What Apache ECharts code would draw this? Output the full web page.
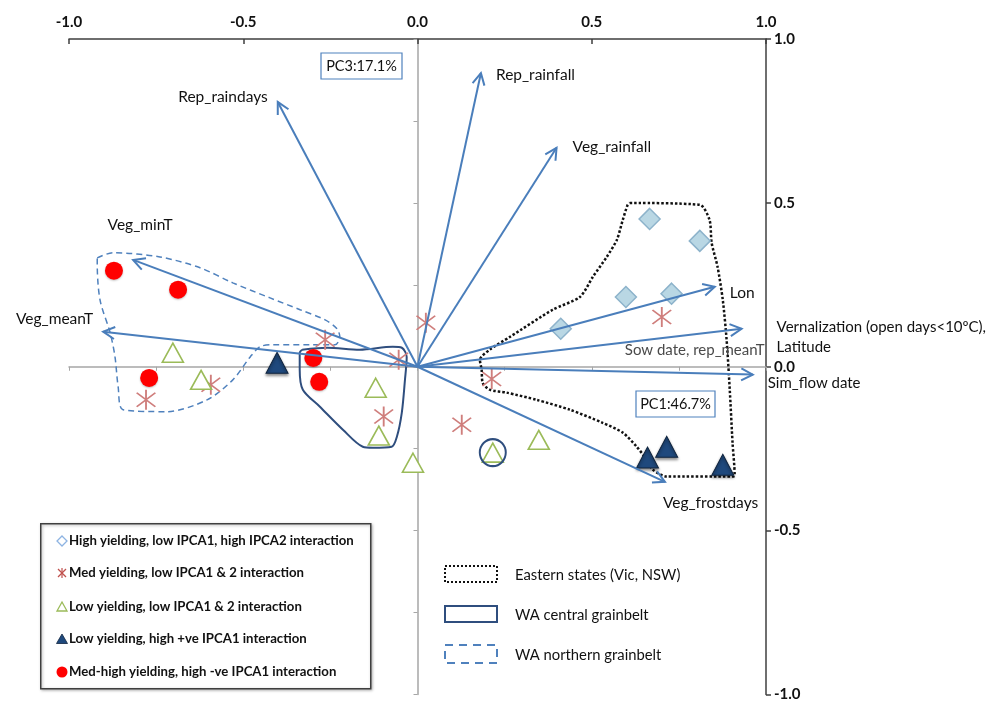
<!DOCTYPE html>
<html>
<head>
<meta charset="utf-8">
<script src="https://cdn.jsdelivr.net/npm/echarts@6/dist/echarts.min.js"></script>
<style>
html,body{margin:0;padding:0;background:#fff;}
#chart{width:989px;height:702px;}
</style>
</head>
<body>
<div id="chart"></div>
<script>
// ---------- DATA ----------
const axisMin = -1, axisMax = 1, axisStep = 0.5, zeroLineStep = 0.25;

// Variable loadings (arrow tips)
const loadingNames = ['Rep_raindays','Rep_rainfall','Veg_rainfall','Veg_minT','Veg_meanT','Lon','Vernalization','Sim_flow date','Veg_frostdays'];
const loadingX = [-0.401, 0.182, 0.399, -0.816, -0.902, 0.853, 0.930, 0.962, 0.710];
const loadingY = [0.808, 0.896, 0.668, 0.326, 0.107, 0.244, 0.116, -0.024, -0.351];
const loadingLabels = ['Rep_raindays','Rep_rainfall','Veg_rainfall','Veg_minT','Veg_meanT','Lon',
  'Vernalization (open days<10ºC),\nLatitude','Sim_flow date','Veg_frostdays'];
const extraLabel = 'Sow date, rep_meanT';

// Genotype groups
const highYield = [[0.411,0.116],[0.598,0.213],[0.666,0.451],[0.729,0.223],[0.810,0.384]];
const medYield = [[-0.265,0.082],[0.024,0.134],[-0.054,0.021],[-0.593,-0.055],[-0.779,-0.101],[-0.097,-0.152],[0.127,-0.177],[0.213,-0.037],[0.701,0.152]];
const lowYield = [[-0.702,0.043],[-0.621,-0.040],[-0.120,-0.064],[-0.111,-0.210],[-0.013,-0.293],[0.216,-0.262],[0.348,-0.223]];
const lowYieldPos = [[-0.403,0.012],[0.660,-0.277],[0.715,-0.244],[0.876,-0.299]];
const medHighNeg = [[-0.871,0.293],[-0.687,0.235],[-0.770,-0.034],[-0.299,0.027],[-0.282,-0.046]];
const circledPoint = [[0.216,-0.262]];

// Region outlines
const easternStates = [[0.609,0.500],[0.810,0.494],[0.838,0.448],[0.844,0.378],[0.861,0.305],[0.876,0.204],[0.887,0.082],[0.896,-0.070],[0.904,-0.232],[0.910,-0.329],[0.907,-0.335],[0.715,-0.335],[0.675,-0.314],[0.658,-0.284],[0.629,-0.244],[0.589,-0.201],[0.531,-0.171],[0.437,-0.131],[0.342,-0.101],[0.256,-0.079],[0.207,-0.070],[0.187,-0.049],[0.184,-0.009],[0.179,0.021],[0.207,0.052],[0.265,0.091],[0.388,0.174],[0.466,0.213],[0.503,0.274],[0.543,0.335],[0.572,0.387],[0.589,0.448],[0.603,0.494],[0.609,0.500]];
const waCentral = [[-0.331,0.052],[-0.259,0.058],[-0.166,0.052],[-0.071,0.061],[-0.045,0.058],[-0.031,0.030],[-0.036,-0.040],[-0.045,-0.140],[-0.059,-0.213],[-0.074,-0.244],[-0.128,-0.247],[-0.157,-0.244],[-0.214,-0.192],[-0.280,-0.122],[-0.329,-0.070],[-0.338,-0.009],[-0.338,0.043],[-0.331,0.052]];
const waNorthern = [[-0.919,0.332],[-0.874,0.348],[-0.739,0.335],[-0.624,0.302],[-0.530,0.256],[-0.423,0.210],[-0.337,0.174],[-0.265,0.143],[-0.231,0.116],[-0.223,0.091],[-0.237,0.067],[-0.309,0.067],[-0.415,0.067],[-0.452,0.061],[-0.480,0.030],[-0.530,-0.040],[-0.604,-0.101],[-0.719,-0.137],[-0.845,-0.131],[-0.859,-0.061],[-0.868,0.030],[-0.882,0.104],[-0.911,0.204],[-0.919,0.317],[-0.919,0.332]];

const groupNames = ['High yielding, low IPCA1, high IPCA2 interaction','Med yielding, low IPCA1 & 2 interaction','Low yielding, low IPCA1 & 2 interaction','Low yielding, high +ve IPCA1 interaction','Med-high yielding, high -ve IPCA1 interaction'];
const regionNames = ['Eastern states (Vic, NSW)','WA central grainbelt','WA northern grainbelt'];
const pcBoxes = ['PC3:17.1%','PC1:46.7%'];

// ---------- STYLE ----------
const FONT = 'Lato, "Open Sans", sans-serif';
const arrowColor = '#4a7ebb';
const labelStyle = { // offsets from arrow tip in px
  'Rep_raindays': {dx:-10, dy:-5, align:'right'},
  'Rep_rainfall': {dx:15, dy:2, align:'left'},
  'Veg_rainfall': {dx:16, dy:-1, align:'left'},
  'Veg_minT': {dx:7, dy:-35, align:'center'},
  'Veg_meanT': {dx:-10, dy:-13, align:'right'},
  'Lon': {dx:15, dy:6, align:'left'},
  'Vernalization': {dx:35, dy:8, align:'left', size:15},
  'Sim_flow date': {dx:15, dy:9, align:'left', size:15},
  'Veg_frostdays': {dx:-2, dy:21, align:'left'}
};
const asteriskPath = 'path://M46.5 0 L53.5 0 L53.5 100 L46.5 100 Z M12.5 17.5 L17.5 12.5 L87.5 82.5 L82.5 87.5 Z M82.5 12.5 L87.5 17.5 L17.5 87.5 L12.5 82.5 Z';

const chart = echarts.init(document.getElementById('chart'), null, {renderer:'canvas'});

const fmt = v => v.toFixed(1);

function arrowItem(params, api) {
  const i = api.value(2);
  const o = api.coord([0, 0]);
  const t = api.coord([api.value(0), api.value(1)]);
  const ang = Math.atan2(t[1] - o[1], t[0] - o[0]);
  const L = 13, a = Math.PI / 6.5;
  const p1 = [t[0] - L * Math.cos(ang - a), t[1] - L * Math.sin(ang - a)];
  const p2 = [t[0] - L * Math.cos(ang + a), t[1] - L * Math.sin(ang + a)];
  const name = loadingNames[i];
  const ls = labelStyle[name];
  const children = [
    {type:'line', shape:{x1:o[0], y1:o[1], x2:t[0], y2:t[1]}, style:{stroke:arrowColor, lineWidth:2}},
    {type:'polyline', shape:{points:[p1, t, p2]}, style:{stroke:arrowColor, lineWidth:2, fill:null}},
    {type:'text', x:t[0] + ls.dx, y:t[1] + ls.dy, style:{text:loadingLabels[i], fill:'#111', font:(ls.size||15.5) + 'px ' + FONT, align:ls.align, verticalAlign:'middle', lineHeight:20}}
  ];
  if (name === 'Vernalization') {
    children.push({type:'text', x:t[0] + 23, y:t[1] + 21, style:{text:extraLabel, fill:'#4a4a4a', font:'15px ' + FONT, align:'right', verticalAlign:'middle'}});
  }
  return {type:'group', children};
}

const option = {
  animation:false,
  grid:{left:69, right:223, top:39, bottom:7},
  xAxis:[
    {type:'value', min:axisMin, max:axisMax, interval:axisStep, position:'top',
     axisLine:{onZero:false, lineStyle:{color:'#3f3f3f', width:1.5}},
     axisTick:{inside:true, length:5, lineStyle:{color:'#3f3f3f', width:1.5}},
     axisLabel:{formatter:fmt, color:'#111', fontWeight:'bold', fontSize:15, fontFamily:FONT, margin:9, showMinLabel:true, showMaxLabel:true},
     splitLine:{show:false}},
    {type:'value', min:axisMin, max:axisMax, interval:zeroLineStep, position:'bottom',
     axisLine:{onZero:true, onZeroAxisIndex:0, lineStyle:{color:'#a6a6a6', width:1.5}},
     axisTick:{show:true, length:4, lineStyle:{color:'#a6a6a6'}},
     axisLabel:{show:false}, splitLine:{show:false}}
  ],
  yAxis:[
    {type:'value', min:axisMin, max:axisMax, interval:axisStep, position:'right',
     axisLine:{show:true, onZero:false, lineStyle:{color:'#3f3f3f', width:1.5}},
     axisTick:{show:true, length:5, lineStyle:{color:'#3f3f3f', width:1.5}},
     axisLabel:{formatter:fmt, color:'#111', fontWeight:'bold', fontSize:15, fontFamily:FONT, margin:8, showMinLabel:true, showMaxLabel:true},
     splitLine:{show:false}},
    {type:'value', min:axisMin, max:axisMax, interval:zeroLineStep, position:'left',
     axisLine:{show:true, onZero:true, onZeroAxisIndex:0, lineStyle:{color:'#a6a6a6', width:1.5}},
     axisTick:{show:true, length:4, lineStyle:{color:'#a6a6a6'}},
     axisLabel:{show:false}, splitLine:{show:false}}
  ],
  series:[
    {type:'line', name:regionNames[0], data:easternStates, smooth:0.25, showSymbol:false, z:3,
     lineStyle:{color:'#111', width:2.5, type:[2.5,2]}},
    {type:'line', name:regionNames[1], data:waCentral, smooth:0.3, showSymbol:false, z:3,
     lineStyle:{color:'#2f4e7e', width:2}},
    {type:'line', name:regionNames[2], data:waNorthern, smooth:0.3, showSymbol:false, z:3,
     lineStyle:{color:'#4f81bd', width:1.5, type:[6,4]}},
    {type:'scatter', name:groupNames[0], data:highYield, symbol:'diamond', symbolSize:21, z:4,
     itemStyle:{color:'#b9d7e4', borderColor:'#8db3cb', borderWidth:1.5, opacity:1}},
    {type:'scatter', name:groupNames[1], data:medYield, symbol:asteriskPath, symbolSize:20, z:4,
     itemStyle:{color:'#cf7e7c', opacity:1}},
    {type:'scatter', name:groupNames[2], data:lowYield, symbol:'triangle', symbolSize:[21,19], z:4,
     itemStyle:{color:'#ffffff', borderColor:'#9bbb59', borderWidth:1.6, opacity:1}},
    {type:'scatter', name:groupNames[3], data:lowYieldPos, symbol:'triangle', symbolSize:[22,21], z:4,
     itemStyle:{color:'#1f497d', borderColor:'#10253f', borderWidth:1, opacity:1, shadowColor:'rgba(0,0,0,0.45)', shadowBlur:3, shadowOffsetY:2}},
    {type:'scatter', name:groupNames[4], data:medHighNeg, symbol:'circle', symbolSize:18, z:4,
     itemStyle:{color:'#ff0000', opacity:1, shadowColor:'rgba(0,0,0,0.25)', shadowBlur:2, shadowOffsetY:1}},
    {type:'scatter', name:'circled', data:circledPoint, symbol:'circle', symbolSize:[26,27], z:4,
     itemStyle:{color:'rgba(0,0,0,0)', borderColor:'#2f4e7e', borderWidth:2, opacity:1}},
    {type:'custom', name:'loadings', coordinateSystem:'cartesian2d', clip:false, z:5,
     data:loadingX.map((x, i) => [x, loadingY[i], i]), renderItem:arrowItem}
  ],
  graphic:[]
};

// ---------- legends & boxes (graphic) ----------
const g = [];
g.push({type:'rect', left:40, top:523, shape:{width:330, height:165}, style:{fill:'#fff', stroke:'#3f3f3f', lineWidth:1.5, shadowColor:'rgba(0,0,0,0.3)', shadowBlur:3, shadowOffsetX:1, shadowOffsetY:1}, z:10});
const legY = [541, 573, 607, 639, 672];
const sx = 62;
// symbols
g.push({type:'polygon', shape:{points:[[sx,legY[0]-5],[sx+5,legY[0]],[sx,legY[0]+5],[sx-5,legY[0]]]}, style:{fill:'#fff', stroke:'#8db3e2', lineWidth:1.3}, z:11});
g.push({type:'group', z:11, children:[
  {type:'line', shape:{x1:sx, y1:legY[1]-5, x2:sx, y2:legY[1]+5}, style:{stroke:'#c0504d', lineWidth:1.2}, z:11},
  {type:'line', shape:{x1:sx-4, y1:legY[1]-4, x2:sx+4, y2:legY[1]+4}, style:{stroke:'#c0504d', lineWidth:1.2}, z:11},
  {type:'line', shape:{x1:sx+4, y1:legY[1]-4, x2:sx-4, y2:legY[1]+4}, style:{stroke:'#c0504d', lineWidth:1.2}, z:11}
]});
g.push({type:'polygon', shape:{points:[[sx,legY[2]-5],[sx+5,legY[2]+4],[sx-5,legY[2]+4]]}, style:{fill:'#fff', stroke:'#9bbb59', lineWidth:1.3}, z:11});
g.push({type:'polygon', shape:{points:[[sx,legY[3]-5],[sx+5.5,legY[3]+4.5],[sx-5.5,legY[3]+4.5]]}, style:{fill:'#1f497d', stroke:'#10253f', lineWidth:0.8}, z:11});
g.push({type:'circle', shape:{cx:sx, cy:legY[4], r:5.5}, style:{fill:'#ff0000'}, z:11});
groupNames.forEach((n, i) => {
  g.push({type:'text', x:69, y:legY[i], style:{text:n, fill:'#111', font:'bold 13.2px ' + FONT, verticalAlign:'middle'}, z:11});
});
// region legend
const regY = [574, 614, 654];
g.push({type:'rect', shape:{x:445, y:regY[0]-8, width:52, height:16}, style:{fill:'#fff', stroke:'#111', lineWidth:2, lineDash:[2,2]}, z:11});
g.push({type:'rect', shape:{x:445, y:regY[1]-8, width:52, height:16}, style:{fill:'#fff', stroke:'#2f4e7e', lineWidth:2}, z:11});
g.push({type:'rect', shape:{x:445, y:regY[2]-9, width:52, height:18}, style:{fill:'#fff', stroke:'#4f81bd', lineWidth:2, lineDash:[8,6]}, z:11});
regionNames.forEach((n, i) => {
  g.push({type:'text', x:515, y:regY[i] + 1, style:{text:n, fill:'#111', font:'14.8px ' + FONT, verticalAlign:'middle'}, z:11});
});
// PC boxes
g.push({type:'rect', shape:{x:321, y:53, width:81, height:26}, style:{fill:'#fff', stroke:'#4f81bd', lineWidth:1.2}, z:11});
g.push({type:'text', x:361.5, y:66, style:{text:pcBoxes[0], fill:'#111', font:'14.5px ' + FONT, align:'center', verticalAlign:'middle'}, z:12});
g.push({type:'rect', shape:{x:636, y:391, width:79, height:26}, style:{fill:'#fff', stroke:'#4f81bd', lineWidth:1.2}, z:11});
g.push({type:'text', x:675.5, y:404, style:{text:pcBoxes[1], fill:'#111', font:'14.5px ' + FONT, align:'center', verticalAlign:'middle'}, z:12});
option.graphic = g;

chart.setOption(option);
</script>
</body>
</html>
